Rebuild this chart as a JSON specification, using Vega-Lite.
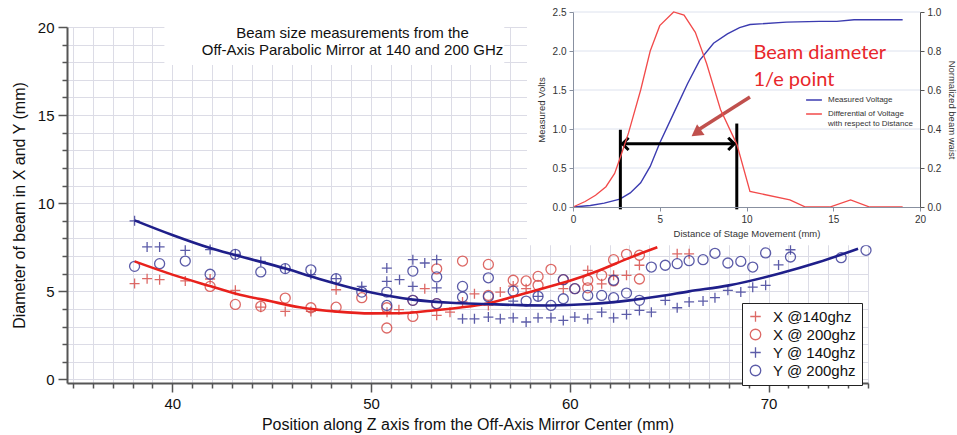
{
  "$schema": "https://vega.github.io/schema/vega-lite/v6.json",
  "width": 801,
  "height": 356,
  "autosize": "none",
  "padding": {"left": 67, "top": 27, "right": 89, "bottom": 52},
  "background": "white",
  "config": {"font": "Liberation Sans", "view": {"stroke": null}},
  "title": {
    "text": ["Beam size measurements from the", "Off-Axis Parabolic Mirror at 140 and 200 GHz"],
    "fontSize": 15, "fontWeight": "normal", "color": "#111", "anchor": "middle", "frame": "group",
    "dx": -115, "dy": 62, "lineHeight": 17, "offset": 0, "baseline": "top"
  },
  "datasets": {
    "pts": [
      {"z": 38.1, "d": 5.44, "s": "X @140ghz"}, {"z": 38.73, "d": 5.72, "s": "X @140ghz"}, {"z": 39.36, "d": 5.66, "s": "X @140ghz"}, {"z": 40.65, "d": 5.59, "s": "X @140ghz"}, {"z": 41.9, "d": 5.7, "s": "X @140ghz"}, {"z": 43.17, "d": 5.06, "s": "X @140ghz"}, {"z": 44.45, "d": 4.1, "s": "X @140ghz"}, {"z": 45.68, "d": 3.86, "s": "X @140ghz"}, {"z": 46.97, "d": 3.86, "s": "X @140ghz"}, {"z": 48.24, "d": 5.09, "s": "X @140ghz"}, {"z": 50.8, "d": 3.82, "s": "X @140ghz"}, {"z": 51.4, "d": 3.96, "s": "X @140ghz"}, {"z": 52.7, "d": 5.15, "s": "X @140ghz"}, {"z": 53.3, "d": 3.64, "s": "X @140ghz"}, {"z": 53.97, "d": 3.82, "s": "X @140ghz"}, {"z": 54.6, "d": 4.4, "s": "X @140ghz"}, {"z": 55.2, "d": 4.86, "s": "X @140ghz"}, {"z": 55.9, "d": 4.2, "s": "X @140ghz"}, {"z": 56.5, "d": 4.96, "s": "X @140ghz"}, {"z": 57.15, "d": 5.3, "s": "X @140ghz"}, {"z": 57.8, "d": 5.15, "s": "X @140ghz"}, {"z": 59.67, "d": 5.15, "s": "X @140ghz"}, {"z": 60.9, "d": 6.19, "s": "X @140ghz"}, {"z": 61.6, "d": 5.43, "s": "X @140ghz"}, {"z": 62.2, "d": 5.91, "s": "X @140ghz"}, {"z": 62.85, "d": 5.91, "s": "X @140ghz"}, {"z": 63.5, "d": 6.48, "s": "X @140ghz"}, {"z": 65.4, "d": 7.13, "s": "X @140ghz"}, {"z": 66.0, "d": 7.13, "s": "X @140ghz"},
      {"z": 41.9, "d": 5.28, "s": "X @ 200ghz"}, {"z": 43.17, "d": 4.26, "s": "X @ 200ghz"}, {"z": 44.45, "d": 4.15, "s": "X @ 200ghz"}, {"z": 45.68, "d": 4.62, "s": "X @ 200ghz"}, {"z": 46.97, "d": 4.07, "s": "X @ 200ghz"}, {"z": 48.24, "d": 4.1, "s": "X @ 200ghz"}, {"z": 49.53, "d": 4.64, "s": "X @ 200ghz"}, {"z": 50.79, "d": 4.07, "s": "X @ 200ghz"}, {"z": 50.79, "d": 2.92, "s": "X @ 200ghz"}, {"z": 52.1, "d": 4.49, "s": "X @ 200ghz"}, {"z": 52.1, "d": 3.58, "s": "X @ 200ghz"}, {"z": 53.3, "d": 6.28, "s": "X @ 200ghz"}, {"z": 53.3, "d": 4.3, "s": "X @ 200ghz"}, {"z": 54.6, "d": 6.72, "s": "X @ 200ghz"}, {"z": 55.9, "d": 6.53, "s": "X @ 200ghz"}, {"z": 55.9, "d": 4.77, "s": "X @ 200ghz"}, {"z": 57.15, "d": 5.63, "s": "X @ 200ghz"}, {"z": 57.8, "d": 5.59, "s": "X @ 200ghz"}, {"z": 58.4, "d": 5.85, "s": "X @ 200ghz"}, {"z": 58.4, "d": 5.34, "s": "X @ 200ghz"}, {"z": 59.05, "d": 6.25, "s": "X @ 200ghz"}, {"z": 59.67, "d": 5.66, "s": "X @ 200ghz"}, {"z": 60.25, "d": 5.15, "s": "X @ 200ghz"}, {"z": 60.9, "d": 5.63, "s": "X @ 200ghz"}, {"z": 60.9, "d": 5.2, "s": "X @ 200ghz"}, {"z": 61.6, "d": 5.91, "s": "X @ 200ghz"}, {"z": 62.2, "d": 6.8, "s": "X @ 200ghz"}, {"z": 62.2, "d": 5.59, "s": "X @ 200ghz"}, {"z": 62.85, "d": 7.1, "s": "X @ 200ghz"}, {"z": 63.5, "d": 7.05, "s": "X @ 200ghz"}, {"z": 63.5, "d": 5.7, "s": "X @ 200ghz"},
      {"z": 38.1, "d": 9.0, "s": "Y @ 140ghz"}, {"z": 38.73, "d": 7.52, "s": "Y @ 140ghz"}, {"z": 39.36, "d": 7.52, "s": "Y @ 140ghz"}, {"z": 40.65, "d": 7.33, "s": "Y @ 140ghz"}, {"z": 41.9, "d": 7.37, "s": "Y @ 140ghz"}, {"z": 43.17, "d": 7.1, "s": "Y @ 140ghz"}, {"z": 44.45, "d": 6.7, "s": "Y @ 140ghz"}, {"z": 45.68, "d": 6.29, "s": "Y @ 140ghz"}, {"z": 46.97, "d": 5.95, "s": "Y @ 140ghz"}, {"z": 48.24, "d": 5.72, "s": "Y @ 140ghz"}, {"z": 49.53, "d": 5.28, "s": "Y @ 140ghz"}, {"z": 50.79, "d": 6.32, "s": "Y @ 140ghz"}, {"z": 50.79, "d": 5.57, "s": "Y @ 140ghz"}, {"z": 51.43, "d": 5.66, "s": "Y @ 140ghz"}, {"z": 52.1, "d": 6.8, "s": "Y @ 140ghz"}, {"z": 52.1, "d": 5.28, "s": "Y @ 140ghz"}, {"z": 52.7, "d": 6.61, "s": "Y @ 140ghz"}, {"z": 53.3, "d": 6.8, "s": "Y @ 140ghz"}, {"z": 53.3, "d": 5.2, "s": "Y @ 140ghz"}, {"z": 54.6, "d": 3.44, "s": "Y @ 140ghz"}, {"z": 55.2, "d": 3.44, "s": "Y @ 140ghz"}, {"z": 55.9, "d": 3.54, "s": "Y @ 140ghz"}, {"z": 56.5, "d": 3.44, "s": "Y @ 140ghz"}, {"z": 57.15, "d": 4.45, "s": "Y @ 140ghz"}, {"z": 57.15, "d": 3.5, "s": "Y @ 140ghz"}, {"z": 57.8, "d": 3.26, "s": "Y @ 140ghz"}, {"z": 58.4, "d": 4.72, "s": "Y @ 140ghz"}, {"z": 58.4, "d": 3.5, "s": "Y @ 140ghz"}, {"z": 59.05, "d": 3.5, "s": "Y @ 140ghz"}, {"z": 59.67, "d": 3.35, "s": "Y @ 140ghz"}, {"z": 60.25, "d": 3.54, "s": "Y @ 140ghz"}, {"z": 60.9, "d": 3.44, "s": "Y @ 140ghz"}, {"z": 61.6, "d": 3.82, "s": "Y @ 140ghz"}, {"z": 62.2, "d": 3.5, "s": "Y @ 140ghz"}, {"z": 62.85, "d": 3.69, "s": "Y @ 140ghz"}, {"z": 63.5, "d": 3.92, "s": "Y @ 140ghz"}, {"z": 64.1, "d": 3.82, "s": "Y @ 140ghz"}, {"z": 64.8, "d": 4.49, "s": "Y @ 140ghz"}, {"z": 65.4, "d": 4.07, "s": "Y @ 140ghz"}, {"z": 66.0, "d": 4.4, "s": "Y @ 140ghz"}, {"z": 66.7, "d": 4.45, "s": "Y @ 140ghz"}, {"z": 67.3, "d": 4.64, "s": "Y @ 140ghz"}, {"z": 67.95, "d": 5.06, "s": "Y @ 140ghz"}, {"z": 68.6, "d": 4.96, "s": "Y @ 140ghz"}, {"z": 69.2, "d": 5.24, "s": "Y @ 140ghz"}, {"z": 69.85, "d": 5.34, "s": "Y @ 140ghz"}, {"z": 70.5, "d": 6.5, "s": "Y @ 140ghz"}, {"z": 71.1, "d": 7.36, "s": "Y @ 140ghz"},
      {"z": 38.1, "d": 6.42, "s": "Y @ 200ghz"}, {"z": 39.36, "d": 6.57, "s": "Y @ 200ghz"}, {"z": 40.65, "d": 6.72, "s": "Y @ 200ghz"}, {"z": 41.9, "d": 5.97, "s": "Y @ 200ghz"}, {"z": 43.17, "d": 7.1, "s": "Y @ 200ghz"}, {"z": 44.45, "d": 6.1, "s": "Y @ 200ghz"}, {"z": 45.68, "d": 6.29, "s": "Y @ 200ghz"}, {"z": 46.97, "d": 6.22, "s": "Y @ 200ghz"}, {"z": 48.24, "d": 5.72, "s": "Y @ 200ghz"}, {"z": 49.53, "d": 4.96, "s": "Y @ 200ghz"}, {"z": 50.79, "d": 4.96, "s": "Y @ 200ghz"}, {"z": 50.79, "d": 4.2, "s": "Y @ 200ghz"}, {"z": 52.1, "d": 6.15, "s": "Y @ 200ghz"}, {"z": 52.1, "d": 4.49, "s": "Y @ 200ghz"}, {"z": 53.3, "d": 5.82, "s": "Y @ 200ghz"}, {"z": 53.3, "d": 4.3, "s": "Y @ 200ghz"}, {"z": 54.6, "d": 5.28, "s": "Y @ 200ghz"}, {"z": 54.6, "d": 4.68, "s": "Y @ 200ghz"}, {"z": 55.9, "d": 5.77, "s": "Y @ 200ghz"}, {"z": 55.9, "d": 4.7, "s": "Y @ 200ghz"}, {"z": 57.15, "d": 5.01, "s": "Y @ 200ghz"}, {"z": 57.8, "d": 4.45, "s": "Y @ 200ghz"}, {"z": 58.4, "d": 4.72, "s": "Y @ 200ghz"}, {"z": 59.05, "d": 4.2, "s": "Y @ 200ghz"}, {"z": 59.67, "d": 5.66, "s": "Y @ 200ghz"}, {"z": 59.67, "d": 4.58, "s": "Y @ 200ghz"}, {"z": 60.25, "d": 5.15, "s": "Y @ 200ghz"}, {"z": 60.9, "d": 4.77, "s": "Y @ 200ghz"}, {"z": 61.6, "d": 4.77, "s": "Y @ 200ghz"}, {"z": 62.2, "d": 5.63, "s": "Y @ 200ghz"}, {"z": 62.2, "d": 4.64, "s": "Y @ 200ghz"}, {"z": 62.85, "d": 4.9, "s": "Y @ 200ghz"}, {"z": 63.5, "d": 4.49, "s": "Y @ 200ghz"}, {"z": 64.1, "d": 6.38, "s": "Y @ 200ghz"}, {"z": 64.8, "d": 6.48, "s": "Y @ 200ghz"}, {"z": 65.4, "d": 6.57, "s": "Y @ 200ghz"}, {"z": 66.0, "d": 6.74, "s": "Y @ 200ghz"}, {"z": 66.7, "d": 6.8, "s": "Y @ 200ghz"}, {"z": 67.3, "d": 7.16, "s": "Y @ 200ghz"}, {"z": 67.95, "d": 6.61, "s": "Y @ 200ghz"}, {"z": 68.6, "d": 6.7, "s": "Y @ 200ghz"}, {"z": 69.2, "d": 6.38, "s": "Y @ 200ghz"}, {"z": 69.85, "d": 7.18, "s": "Y @ 200ghz"}, {"z": 71.1, "d": 6.95, "s": "Y @ 200ghz"}, {"z": 73.65, "d": 6.91, "s": "Y @ 200ghz"}, {"z": 74.9, "d": 7.33, "s": "Y @ 200ghz"}
    ],
    "fits": [
      {"z": 38.1, "d": 6.7, "f": "X"}, {"z": 40, "d": 5.95, "f": "X"}, {"z": 41.9, "d": 5.3, "f": "X"}, {"z": 43.2, "d": 4.87, "f": "X"}, {"z": 44.9, "d": 4.45, "f": "X"}, {"z": 46.4, "d": 4.1, "f": "X"}, {"z": 48.3, "d": 3.85, "f": "X"}, {"z": 50, "d": 3.75, "f": "X"}, {"z": 51.5, "d": 3.76, "f": "X"}, {"z": 53, "d": 3.9, "f": "X"}, {"z": 54.5, "d": 4.08, "f": "X"}, {"z": 55.8, "d": 4.3, "f": "X"}, {"z": 57, "d": 4.65, "f": "X"}, {"z": 58.3, "d": 5.06, "f": "X"}, {"z": 60, "d": 5.6, "f": "X"}, {"z": 61.5, "d": 6.2, "f": "X"}, {"z": 63, "d": 6.9, "f": "X"}, {"z": 64.4, "d": 7.5, "f": "X"},
      {"z": 38.1, "d": 9.03, "f": "Y"}, {"z": 40, "d": 8.2, "f": "Y"}, {"z": 41.9, "d": 7.46, "f": "Y"}, {"z": 43.2, "d": 7.05, "f": "Y"}, {"z": 45.7, "d": 6.29, "f": "Y"}, {"z": 47.4, "d": 5.7, "f": "Y"}, {"z": 49.5, "d": 5.06, "f": "Y"}, {"z": 52.1, "d": 4.53, "f": "Y"}, {"z": 54, "d": 4.35, "f": "Y"}, {"z": 55.8, "d": 4.28, "f": "Y"}, {"z": 57.5, "d": 4.22, "f": "Y"}, {"z": 59, "d": 4.2, "f": "Y"}, {"z": 61, "d": 4.28, "f": "Y"}, {"z": 63, "d": 4.49, "f": "Y"}, {"z": 64.5, "d": 4.72, "f": "Y"}, {"z": 66, "d": 5.0, "f": "Y"}, {"z": 68, "d": 5.34, "f": "Y"}, {"z": 70.5, "d": 6.0, "f": "Y"}, {"z": 72.5, "d": 6.65, "f": "Y"}, {"z": 74.5, "d": 7.42, "f": "Y"}
    ],
    "volts": [
      {"x": 0, "v": 0}, {"x": 1, "v": 0.02}, {"x": 1.8, "v": 0.05}, {"x": 2.7, "v": 0.1}, {"x": 3.3, "v": 0.18}, {"x": 3.9, "v": 0.31}, {"x": 4.45, "v": 0.52}, {"x": 5.0, "v": 0.82}, {"x": 5.8, "v": 1.2}, {"x": 6.6, "v": 1.58}, {"x": 7.3, "v": 1.88}, {"x": 8.1, "v": 2.1}, {"x": 8.9, "v": 2.22}, {"x": 9.6, "v": 2.3}, {"x": 10.2, "v": 2.34}, {"x": 12.3, "v": 2.37}, {"x": 14.2, "v": 2.38}, {"x": 15.2, "v": 2.38}, {"x": 16.2, "v": 2.4}, {"x": 19, "v": 2.4}
    ],
    "diff": [
      {"x": 0, "n": 0}, {"x": 0.7, "n": 0.028}, {"x": 1.3, "n": 0.06}, {"x": 1.9, "n": 0.104}, {"x": 2.4, "n": 0.172}, {"x": 2.75, "n": 0.26}, {"x": 3.2, "n": 0.38}, {"x": 3.9, "n": 0.6}, {"x": 4.45, "n": 0.8}, {"x": 5.0, "n": 0.93}, {"x": 5.8, "n": 1.0}, {"x": 6.4, "n": 0.984}, {"x": 7.05, "n": 0.896}, {"x": 7.7, "n": 0.736}, {"x": 8.5, "n": 0.5}, {"x": 9.45, "n": 0.32}, {"x": 10.2, "n": 0.08}, {"x": 12.5, "n": 0.036}, {"x": 13.4, "n": 0}, {"x": 14.8, "n": 0}, {"x": 16, "n": 0.036}, {"x": 17.1, "n": 0}, {"x": 19, "n": 0}
    ]
  },
  "layer": [
    {
      "encoding": {
        "x": {"field": "z", "type": "quantitative", "scale": {"domain": [34.7, 75], "nice": false, "zero": false},
          "axis": {"values": [35,36,37,38,39,40,41,42,43,44,45,46,47,48,49,50,51,52,53,54,55,56,57,58,59,60,61,62,63,64,65,66,67,68,69,70,71,72,73,74,75],
            "labelExpr": "datum.value % 10 === 0 ? datum.label : ''",
            "tickSize": {"condition": {"test": "datum.value % 10 === 0", "value": 9}, "value": 5},
            "grid": true, "gridColor": "#dcdce6", "gridWidth": 1, "domainColor": "#555", "domainWidth": 2, "tickColor": "#555", "tickWidth": 1.5,
            "labelFontSize": 15, "labelColor": "#111", "labelPadding": 4, "labelFlush": false, "labelOverlap": false,
            "title": "Position along Z axis from the Off-Axis Mirror Center (mm)", "titleFontSize": 16, "titleFontWeight": "normal", "titleColor": "#111", "titlePadding": 5}},
        "y": {"field": "d", "type": "quantitative", "scale": {"domain": [-0.2, 20], "nice": false, "zero": false},
          "axis": {"values": [0,1,2,3,4,5,6,7,8,9,10,11,12,13,14,15,16,17,18,19,20],
            "labelExpr": "datum.value % 5 === 0 ? datum.label : ''",
            "tickSize": {"condition": {"test": "datum.value % 5 === 0", "value": 9}, "value": 5},
            "grid": true, "gridColor": "#dcdce6", "gridWidth": 1, "domainColor": "#555", "domainWidth": 2, "tickColor": "#555", "tickWidth": 1.5,
            "labelFontSize": 15, "labelColor": "#111", "labelPadding": 4, "labelFlush": false, "labelOverlap": false,
            "title": "Diameter of beam in X and Y (mm)", "titleFontSize": 16, "titleFontWeight": "normal", "titleColor": "#111", "titlePadding": 10}}
      },
      "layer": [
        {
          "data": {"values": [{"z": 39.6, "z2": 56.7, "d": 17.85, "d2": 20.2}]},
          "mark": {"type": "rect", "fill": "white"},
          "encoding": {"x2": {"field": "z2"}, "y2": {"field": "d2"}}
        },
        {
          "data": {"name": "pts"},
          "mark": {"type": "point", "filled": false, "strokeWidth": 1.3, "opacity": 0.85, "size": 100},
          "encoding": {
            "color": {"field": "s", "type": "nominal",
              "scale": {"domain": ["X @140ghz", "X @ 200ghz", "Y @ 140ghz", "Y @ 200ghz"], "range": ["#d8504c", "#d8504c", "#40409a", "#40409a"]},
              "legend": {"orient": "none", "legendX": 675, "legendY": 276, "title": null, "labelFontSize": 15, "labelColor": "#111", "fillColor": "white", "strokeColor": "#222", "padding": 6, "rowPadding": 1, "labelOffset": 10, "symbolSize": 110, "symbolStrokeWidth": 1.3}},
            "shape": {"field": "s", "type": "nominal",
              "scale": {"domain": ["X @140ghz", "X @ 200ghz", "Y @ 140ghz", "Y @ 200ghz"], "range": ["M-1,0L1,0M0,-1L0,1", "circle", "M-1,0L1,0M0,-1L0,1", "circle"]},
              "legend": {"orient": "none", "legendX": 675, "legendY": 276, "title": null, "labelFontSize": 15, "labelColor": "#111", "fillColor": "white", "strokeColor": "#222", "padding": 6, "rowPadding": 1, "labelOffset": 10, "symbolSize": 110, "symbolStrokeWidth": 1.3}}
          }
        },
        {
          "data": {"name": "fits"},
          "transform": [{"filter": "datum.f === 'X'"}],
          "mark": {"type": "line", "color": "#e8211c", "strokeWidth": 2.6, "interpolate": "monotone"},
          "encoding": {}
        },
        {
          "data": {"name": "fits"},
          "transform": [{"filter": "datum.f === 'Y'"}],
          "mark": {"type": "line", "color": "#1f1f8a", "strokeWidth": 2.6, "interpolate": "monotone"},
          "encoding": {}
        }
      ]
    },
    {
      "layer": [
        {
          "encoding": {
            "x": {"field": "x", "type": "quantitative", "scale": {"domain": [0, 20], "range": [506, 853], "nice": false, "zero": false},
              "axis": {"orient": "bottom", "offset": -176, "values": [0, 5, 10, 15, 20], "grid": false, "zindex": 1, "domainColor": "#8890a0", "tickColor": "#8890a0", "tickSize": 4, "labelFontSize": 10, "labelColor": "#333", "labelFlush": false, "labelPadding": 3,
                "title": "Distance of Stage Movement (mm)", "titleFontSize": 9.5, "titleFontWeight": "normal", "titleColor": "#333", "titlePadding": 4}},
            "y": {"field": "v", "type": "quantitative", "scale": {"domain": [0, 2.5], "range": [180, -15], "nice": false, "zero": false},
              "axis": {"orient": "left", "offset": -506, "values": [0, 0.5, 1, 1.5, 2, 2.5], "format": ".1f", "grid": false, "zindex": 1, "domainColor": "#8890a0", "tickColor": "#8890a0", "tickSize": 4, "labelFontSize": 10, "labelColor": "#333", "labelPadding": 3,
                "title": "Measured Volts", "titleFontSize": 9.5, "titleFontWeight": "normal", "titleColor": "#333", "titlePadding": 6}}
          },
          "layer": [
            {
              "data": {"values": [{"x": -2.65, "x2": 22.2, "v": -0.49, "v2": 2.7}]},
              "mark": {"type": "rect", "fill": "white"},
              "encoding": {"x2": {"field": "x2"}, "y2": {"field": "v2"}}
            },
            {
              "data": {"values": [{"x": 0, "x2": 20, "v": 0.5}, {"x": 0, "x2": 20, "v": 1.0}, {"x": 0, "x2": 20, "v": 1.5}, {"x": 0, "x2": 20, "v": 2.0}, {"x": 0, "x2": 20, "v": 2.5}]},
              "mark": {"type": "rule", "color": "#dde2ee", "strokeWidth": 1},
              "encoding": {"x2": {"field": "x2"}}
            },
            {
              "data": {"name": "volts"},
              "transform": [{"calculate": "'Measured Voltage'", "as": "k"}],
              "mark": {"type": "line", "strokeWidth": 1.4},
              "encoding": {
                "stroke": {"field": "k", "type": "nominal",
                  "scale": {"domain": ["Measured Voltage", "Differential of Voltage|with respect to Distance"], "range": ["#3b3bb0", "#f24a4a"]},
                  "legend": {"orient": "none", "legendX": 738, "legendY": 64, "title": null, "labelFontSize": 8, "labelColor": "#333", "symbolType": "stroke", "symbolStrokeWidth": 1.5, "symbolSize": 250, "rowPadding": 1, "labelLimit": 300, "labelOffset": 5, "labelExpr": "split(datum.label, '|')"}}
              }
            },
            {
              "data": {"values": [{"x": 2.73, "v": -0.03, "v2": 0.99}, {"x": 9.44, "v": -0.03, "v2": 1.07}]},
              "mark": {"type": "rule", "color": "black", "strokeWidth": 3},
              "encoding": {"y2": {"field": "v2"}}
            },
            {
              "data": {"values": [{"x": 2.85, "x2": 9.3, "v": 0.81}]},
              "mark": {"type": "rule", "color": "black", "strokeWidth": 3},
              "encoding": {"x2": {"field": "x2"}}
            },
            {
              "data": {"values": [{"x": 2.85, "v": 0.81}]},
              "mark": {"type": "point", "shape": "M1,-1L0,0L1,1", "filled": false, "color": "black", "strokeWidth": 3, "size": 150, "opacity": 1},
              "encoding": {}
            },
            {
              "data": {"values": [{"x": 9.3, "v": 0.81}]},
              "mark": {"type": "point", "shape": "M-1,-1L0,0L-1,1", "filled": false, "color": "black", "strokeWidth": 3, "size": 150, "opacity": 1},
              "encoding": {}
            },
            {
              "data": {"values": [{"x": 10.2, "v": 1.41, "x2": 7.3, "v2": 1.0}]},
              "mark": {"type": "rule", "color": "#c0504d", "strokeWidth": 3.5},
              "encoding": {"x2": {"field": "x2"}, "y2": {"field": "v2"}}
            },
            {
              "data": {"values": [{"x": 7.1, "v": 0.95}]},
              "mark": {"type": "point", "shape": "triangle-up", "filled": true, "color": "#c0504d", "size": 170, "angle": 235, "opacity": 1},
              "encoding": {}
            },
            {
              "data": {"values": [{"t": "Beam diameter", "x": 10.4, "v": 1.97}, {"t": "1/e point", "x": 10.4, "v": 1.63}]},
              "mark": {"type": "text", "font": "Lato", "fontSize": 20, "color": "#e8262a", "align": "left", "baseline": "middle"},
              "encoding": {"text": {"field": "t"}}
            }
          ]
        },
        {
          "data": {"name": "diff"},
          "transform": [{"calculate": "'Differential of Voltage|with respect to Distance'", "as": "k"}],
          "mark": {"type": "line", "strokeWidth": 1.3},
          "encoding": {
            "x": {"field": "x", "type": "quantitative", "scale": {"domain": [0, 20], "range": [506, 853], "nice": false, "zero": false}},
            "y": {"field": "n", "type": "quantitative", "scale": {"domain": [0, 1], "range": [180, -15], "nice": false, "zero": false},
              "axis": {"orient": "right", "offset": 52, "values": [0, 0.2, 0.4, 0.6, 0.8, 1.0], "format": ".1f", "grid": false, "zindex": 1, "domainColor": "#555", "tickColor": "#555", "tickSize": 4, "labelFontSize": 10, "labelColor": "#333", "labelPadding": 3,
                "title": "Normalized beam waist", "titleFontSize": 9.5, "titleFontWeight": "normal", "titleColor": "#333", "titlePadding": 6}},
            "stroke": {"field": "k", "type": "nominal",
              "scale": {"domain": ["Measured Voltage", "Differential of Voltage|with respect to Distance"], "range": ["#3b3bb0", "#f24a4a"]},
              "legend": {"orient": "none", "legendX": 738, "legendY": 64, "title": null, "labelFontSize": 8, "labelColor": "#333", "symbolType": "stroke", "symbolStrokeWidth": 1.5, "symbolSize": 250, "rowPadding": 1, "labelLimit": 300, "labelOffset": 5, "labelExpr": "split(datum.label, '|')"}}
          }
        }
      ],
      "resolve": {"scale": {"y": "independent"}, "axis": {"y": "independent"}}
    }
  ],
  "resolve": {"scale": {"x": "independent", "y": "independent"}, "axis": {"x": "independent", "y": "independent"}}
}
